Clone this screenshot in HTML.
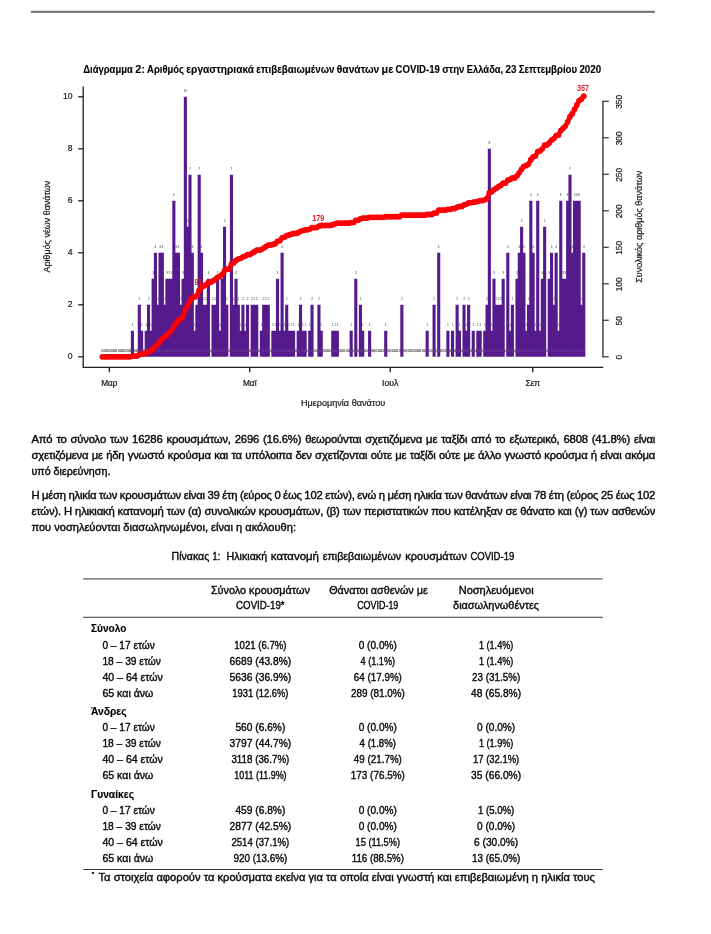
<!DOCTYPE html>
<html lang="el"><head><meta charset="utf-8"><title>COVID-19 report</title>
<style>
html,body{margin:0;padding:0;background:#fff}
svg{display:block;will-change:transform;font-family:"Liberation Sans",sans-serif}
</style></head><body>
<svg width="711" height="934" viewBox="0 0 711 934">
<rect width="711" height="934" fill="#fff"/>
<rect x="30.9" y="10.8" width="624" height="2" fill="#707070"/>
<g id="chart">
<path d="M130.85 356.8v-26.0h3.1v26.0zM137.76 356.8v-52.0h3.1v52.0zM140.06 356.8v-26.0h3.1v26.0zM144.67 356.8v-26.0h3.1v26.0zM146.97 356.8v-52.0h3.1v52.0zM149.27 356.8v-26.0h3.1v26.0zM151.58 356.8v-78.0h3.1v78.0zM153.88 356.8v-104.0h3.1v104.0zM156.18 356.8v-52.0h3.1v52.0zM158.49 356.8v-104.0h3.1v104.0zM160.79 356.8v-104.0h3.1v104.0zM163.09 356.8v-52.0h3.1v52.0zM165.39 356.8v-78.0h3.1v78.0zM167.70 356.8v-78.0h3.1v78.0zM170.00 356.8v-78.0h3.1v78.0zM172.30 356.8v-156.0h3.1v156.0zM174.61 356.8v-104.0h3.1v104.0zM176.91 356.8v-104.0h3.1v104.0zM179.21 356.8v-52.0h3.1v52.0zM181.52 356.8v-78.0h3.1v78.0zM183.82 356.8v-260.0h3.1v260.0zM186.12 356.8v-130.0h3.1v130.0zM188.42 356.8v-182.0h3.1v182.0zM190.73 356.8v-104.0h3.1v104.0zM193.03 356.8v-26.0h3.1v26.0zM195.33 356.8v-52.0h3.1v52.0zM197.64 356.8v-182.0h3.1v182.0zM199.94 356.8v-104.0h3.1v104.0zM202.24 356.8v-52.0h3.1v52.0zM204.55 356.8v-52.0h3.1v52.0zM206.85 356.8v-78.0h3.1v78.0zM211.45 356.8v-52.0h3.1v52.0zM213.76 356.8v-52.0h3.1v52.0zM216.06 356.8v-78.0h3.1v78.0zM218.36 356.8v-26.0h3.1v26.0zM220.67 356.8v-78.0h3.1v78.0zM222.97 356.8v-130.0h3.1v130.0zM225.27 356.8v-52.0h3.1v52.0zM229.88 356.8v-182.0h3.1v182.0zM232.18 356.8v-52.0h3.1v52.0zM234.48 356.8v-78.0h3.1v78.0zM236.79 356.8v-52.0h3.1v52.0zM239.09 356.8v-26.0h3.1v26.0zM241.39 356.8v-52.0h3.1v52.0zM243.70 356.8v-26.0h3.1v26.0zM246.00 356.8v-52.0h3.1v52.0zM250.61 356.8v-52.0h3.1v52.0zM252.91 356.8v-52.0h3.1v52.0zM255.21 356.8v-52.0h3.1v52.0zM259.82 356.8v-26.0h3.1v26.0zM262.12 356.8v-52.0h3.1v52.0zM264.42 356.8v-52.0h3.1v52.0zM266.73 356.8v-52.0h3.1v52.0zM271.33 356.8v-26.0h3.1v26.0zM273.64 356.8v-26.0h3.1v26.0zM275.94 356.8v-78.0h3.1v78.0zM278.24 356.8v-26.0h3.1v26.0zM280.55 356.8v-104.0h3.1v104.0zM282.85 356.8v-26.0h3.1v26.0zM285.15 356.8v-52.0h3.1v52.0zM287.45 356.8v-26.0h3.1v26.0zM289.76 356.8v-26.0h3.1v26.0zM292.06 356.8v-26.0h3.1v26.0zM296.67 356.8v-26.0h3.1v26.0zM298.97 356.8v-52.0h3.1v52.0zM301.27 356.8v-26.0h3.1v26.0zM303.57 356.8v-26.0h3.1v26.0zM308.18 356.8v-26.0h3.1v26.0zM310.48 356.8v-52.0h3.1v52.0zM317.39 356.8v-52.0h3.1v52.0zM319.70 356.8v-26.0h3.1v26.0zM331.21 356.8v-26.0h3.1v26.0zM333.51 356.8v-26.0h3.1v26.0zM335.82 356.8v-26.0h3.1v26.0zM349.63 356.8v-26.0h3.1v26.0zM354.24 356.8v-78.0h3.1v78.0zM358.85 356.8v-52.0h3.1v52.0zM361.15 356.8v-26.0h3.1v26.0zM368.06 356.8v-26.0h3.1v26.0zM384.18 356.8v-26.0h3.1v26.0zM400.30 356.8v-52.0h3.1v52.0zM425.63 356.8v-26.0h3.1v26.0zM432.54 356.8v-52.0h3.1v52.0zM437.15 356.8v-104.0h3.1v104.0zM446.36 356.8v-26.0h3.1v26.0zM450.97 356.8v-26.0h3.1v26.0zM455.57 356.8v-52.0h3.1v52.0zM457.88 356.8v-26.0h3.1v26.0zM462.48 356.8v-52.0h3.1v52.0zM464.79 356.8v-26.0h3.1v26.0zM467.09 356.8v-52.0h3.1v52.0zM471.69 356.8v-26.0h3.1v26.0zM476.30 356.8v-26.0h3.1v26.0zM478.60 356.8v-26.0h3.1v26.0zM483.21 356.8v-26.0h3.1v26.0zM485.51 356.8v-52.0h3.1v52.0zM487.81 356.8v-208.0h3.1v208.0zM490.12 356.8v-26.0h3.1v26.0zM492.42 356.8v-78.0h3.1v78.0zM494.72 356.8v-52.0h3.1v52.0zM497.03 356.8v-52.0h3.1v52.0zM499.33 356.8v-52.0h3.1v52.0zM501.63 356.8v-78.0h3.1v78.0zM506.24 356.8v-104.0h3.1v104.0zM508.54 356.8v-26.0h3.1v26.0zM510.84 356.8v-52.0h3.1v52.0zM515.45 356.8v-78.0h3.1v78.0zM517.75 356.8v-104.0h3.1v104.0zM520.06 356.8v-130.0h3.1v130.0zM522.36 356.8v-104.0h3.1v104.0zM524.66 356.8v-26.0h3.1v26.0zM526.97 356.8v-52.0h3.1v52.0zM529.27 356.8v-156.0h3.1v156.0zM531.57 356.8v-104.0h3.1v104.0zM533.88 356.8v-26.0h3.1v26.0zM536.18 356.8v-156.0h3.1v156.0zM538.48 356.8v-26.0h3.1v26.0zM540.78 356.8v-78.0h3.1v78.0zM543.09 356.8v-130.0h3.1v130.0zM547.69 356.8v-78.0h3.1v78.0zM550.00 356.8v-104.0h3.1v104.0zM552.30 356.8v-52.0h3.1v52.0zM554.60 356.8v-104.0h3.1v104.0zM556.91 356.8v-26.0h3.1v26.0zM559.21 356.8v-156.0h3.1v156.0zM561.51 356.8v-78.0h3.1v78.0zM563.81 356.8v-78.0h3.1v78.0zM566.12 356.8v-156.0h3.1v156.0zM568.42 356.8v-182.0h3.1v182.0zM570.72 356.8v-104.0h3.1v104.0zM573.03 356.8v-156.0h3.1v156.0zM575.33 356.8v-156.0h3.1v156.0zM577.63 356.8v-156.0h3.1v156.0zM579.94 356.8v-52.0h3.1v52.0zM582.24 356.8v-104.0h3.1v104.0z" fill="#551a8b"/>
<g font-size="3.2" fill="#3c3c3c" text-anchor="middle" font-family="'Liberation Sans',sans-serif">
<text x="132.40" y="325.5">1</text>
<text x="139.31" y="299.5">2</text>
<text x="141.61" y="325.5">1</text>
<text x="146.22" y="325.5">1</text>
<text x="148.52" y="299.5">2</text>
<text x="150.82" y="325.5">1</text>
<text x="153.13" y="273.5">3</text>
<text x="155.43" y="247.5">4</text>
<text x="157.73" y="299.5">2</text>
<text x="160.04" y="247.5">4</text>
<text x="162.34" y="247.5">4</text>
<text x="164.64" y="299.5">2</text>
<text x="166.94" y="273.5">3</text>
<text x="169.25" y="273.5">3</text>
<text x="171.55" y="273.5">3</text>
<text x="173.85" y="195.5">6</text>
<text x="176.16" y="247.5">4</text>
<text x="178.46" y="247.5">4</text>
<text x="180.76" y="299.5">2</text>
<text x="183.07" y="273.5">3</text>
<text x="185.37" y="91.5">10</text>
<text x="187.67" y="221.5">5</text>
<text x="189.97" y="169.5">7</text>
<text x="192.28" y="247.5">4</text>
<text x="194.58" y="325.5">1</text>
<text x="196.88" y="299.5">2</text>
<text x="199.19" y="169.5">7</text>
<text x="201.49" y="247.5">4</text>
<text x="203.79" y="299.5">2</text>
<text x="206.10" y="299.5">2</text>
<text x="208.40" y="273.5">3</text>
<text x="213.00" y="299.5">2</text>
<text x="215.31" y="299.5">2</text>
<text x="217.61" y="273.5">3</text>
<text x="219.91" y="325.5">1</text>
<text x="222.22" y="273.5">3</text>
<text x="224.52" y="221.5">5</text>
<text x="226.82" y="299.5">2</text>
<text x="231.43" y="169.5">7</text>
<text x="233.73" y="299.5">2</text>
<text x="236.03" y="273.5">3</text>
<text x="238.34" y="299.5">2</text>
<text x="240.64" y="325.5">1</text>
<text x="242.94" y="299.5">2</text>
<text x="245.25" y="325.5">1</text>
<text x="247.55" y="299.5">2</text>
<text x="252.16" y="299.5">2</text>
<text x="254.46" y="299.5">2</text>
<text x="256.76" y="299.5">2</text>
<text x="261.37" y="325.5">1</text>
<text x="263.67" y="299.5">2</text>
<text x="265.97" y="299.5">2</text>
<text x="268.28" y="299.5">2</text>
<text x="272.88" y="325.5">1</text>
<text x="275.19" y="325.5">1</text>
<text x="277.49" y="273.5">3</text>
<text x="279.79" y="325.5">1</text>
<text x="282.10" y="247.5">4</text>
<text x="284.40" y="325.5">1</text>
<text x="286.70" y="299.5">2</text>
<text x="289.00" y="325.5">1</text>
<text x="291.31" y="325.5">1</text>
<text x="293.61" y="325.5">1</text>
<text x="298.22" y="325.5">1</text>
<text x="300.52" y="299.5">2</text>
<text x="302.82" y="325.5">1</text>
<text x="305.12" y="325.5">1</text>
<text x="309.73" y="325.5">1</text>
<text x="312.03" y="299.5">2</text>
<text x="318.94" y="299.5">2</text>
<text x="321.25" y="325.5">1</text>
<text x="332.76" y="325.5">1</text>
<text x="335.06" y="325.5">1</text>
<text x="337.37" y="325.5">1</text>
<text x="351.19" y="325.5">1</text>
<text x="355.79" y="273.5">3</text>
<text x="360.40" y="299.5">2</text>
<text x="362.70" y="325.5">1</text>
<text x="369.61" y="325.5">1</text>
<text x="385.73" y="325.5">1</text>
<text x="401.85" y="299.5">2</text>
<text x="427.18" y="325.5">1</text>
<text x="434.09" y="299.5">2</text>
<text x="438.70" y="247.5">4</text>
<text x="447.91" y="325.5">1</text>
<text x="452.52" y="325.5">1</text>
<text x="457.12" y="299.5">2</text>
<text x="459.43" y="325.5">1</text>
<text x="464.03" y="299.5">2</text>
<text x="466.34" y="325.5">1</text>
<text x="468.64" y="299.5">2</text>
<text x="473.24" y="325.5">1</text>
<text x="477.85" y="325.5">1</text>
<text x="480.15" y="325.5">1</text>
<text x="484.76" y="325.5">1</text>
<text x="487.06" y="299.5">2</text>
<text x="489.37" y="143.5">8</text>
<text x="491.67" y="325.5">1</text>
<text x="493.97" y="273.5">3</text>
<text x="496.27" y="299.5">2</text>
<text x="498.58" y="299.5">2</text>
<text x="500.88" y="299.5">2</text>
<text x="503.18" y="273.5">3</text>
<text x="507.79" y="247.5">4</text>
<text x="510.09" y="325.5">1</text>
<text x="512.39" y="299.5">2</text>
<text x="517.00" y="273.5">3</text>
<text x="519.30" y="247.5">4</text>
<text x="521.61" y="221.5">5</text>
<text x="523.91" y="247.5">4</text>
<text x="526.21" y="325.5">1</text>
<text x="528.52" y="299.5">2</text>
<text x="530.82" y="195.5">6</text>
<text x="533.12" y="247.5">4</text>
<text x="535.42" y="325.5">1</text>
<text x="537.73" y="195.5">6</text>
<text x="540.03" y="325.5">1</text>
<text x="542.33" y="273.5">3</text>
<text x="544.64" y="221.5">5</text>
<text x="549.24" y="273.5">3</text>
<text x="551.55" y="247.5">4</text>
<text x="553.85" y="299.5">2</text>
<text x="556.15" y="247.5">4</text>
<text x="558.46" y="325.5">1</text>
<text x="560.76" y="195.5">6</text>
<text x="563.06" y="273.5">3</text>
<text x="565.36" y="273.5">3</text>
<text x="567.67" y="195.5">6</text>
<text x="569.97" y="169.5">7</text>
<text x="572.27" y="247.5">4</text>
<text x="574.58" y="195.5">6</text>
<text x="576.88" y="195.5">6</text>
<text x="579.18" y="195.5">6</text>
<text x="581.49" y="299.5">2</text>
<text x="583.79" y="247.5">4</text>
</g>
<g font-size="3.3" fill="#3a3a3a" stroke="#3a3a3a" stroke-width="0.12" text-anchor="middle" font-family="'Liberation Sans',sans-serif">
<text x="102.46" y="351.6">0</text>
<text x="104.76" y="351.6">0</text>
<text x="107.07" y="351.6">0</text>
<text x="109.37" y="351.6">0</text>
<text x="111.67" y="351.6">0</text>
<text x="113.98" y="351.6">0</text>
<text x="116.28" y="351.6">0</text>
<text x="118.58" y="351.6">0</text>
<text x="120.89" y="351.6">0</text>
<text x="123.19" y="351.6">0</text>
<text x="125.49" y="351.6">0</text>
<text x="127.79" y="351.6">0</text>
<text x="130.10" y="351.6">0</text>
<text x="132.40" y="351.6" fill="#c9b8e6" fill-opacity=".3" stroke="none">0</text>
<text x="134.70" y="351.6">0</text>
<text x="137.01" y="351.6">0</text>
<text x="139.31" y="351.6" fill="#c9b8e6" fill-opacity=".3" stroke="none">0</text>
<text x="141.61" y="351.6" fill="#c9b8e6" fill-opacity=".3" stroke="none">0</text>
<text x="143.92" y="351.6">0</text>
<text x="146.22" y="351.6" fill="#c9b8e6" fill-opacity=".3" stroke="none">0</text>
<text x="148.52" y="351.6" fill="#c9b8e6" fill-opacity=".3" stroke="none">0</text>
<text x="150.82" y="351.6" fill="#c9b8e6" fill-opacity=".3" stroke="none">0</text>
<text x="153.13" y="351.6" fill="#c9b8e6" fill-opacity=".3" stroke="none">0</text>
<text x="155.43" y="351.6" fill="#c9b8e6" fill-opacity=".3" stroke="none">0</text>
<text x="157.73" y="351.6" fill="#c9b8e6" fill-opacity=".3" stroke="none">0</text>
<text x="160.04" y="351.6" fill="#c9b8e6" fill-opacity=".3" stroke="none">0</text>
<text x="162.34" y="351.6" fill="#c9b8e6" fill-opacity=".3" stroke="none">0</text>
<text x="164.64" y="351.6" fill="#c9b8e6" fill-opacity=".3" stroke="none">0</text>
<text x="166.94" y="351.6" fill="#c9b8e6" fill-opacity=".3" stroke="none">0</text>
<text x="169.25" y="351.6" fill="#c9b8e6" fill-opacity=".3" stroke="none">0</text>
<text x="171.55" y="351.6" fill="#c9b8e6" fill-opacity=".3" stroke="none">0</text>
<text x="173.85" y="351.6" fill="#c9b8e6" fill-opacity=".3" stroke="none">0</text>
<text x="176.16" y="351.6" fill="#c9b8e6" fill-opacity=".3" stroke="none">0</text>
<text x="178.46" y="351.6" fill="#c9b8e6" fill-opacity=".3" stroke="none">0</text>
<text x="180.76" y="351.6" fill="#c9b8e6" fill-opacity=".3" stroke="none">0</text>
<text x="183.07" y="351.6" fill="#c9b8e6" fill-opacity=".3" stroke="none">0</text>
<text x="185.37" y="351.6" fill="#c9b8e6" fill-opacity=".3" stroke="none">0</text>
<text x="187.67" y="351.6" fill="#c9b8e6" fill-opacity=".3" stroke="none">0</text>
<text x="189.97" y="351.6" fill="#c9b8e6" fill-opacity=".3" stroke="none">0</text>
<text x="192.28" y="351.6" fill="#c9b8e6" fill-opacity=".3" stroke="none">0</text>
<text x="194.58" y="351.6" fill="#c9b8e6" fill-opacity=".3" stroke="none">0</text>
<text x="196.88" y="351.6" fill="#c9b8e6" fill-opacity=".3" stroke="none">0</text>
<text x="199.19" y="351.6" fill="#c9b8e6" fill-opacity=".3" stroke="none">0</text>
<text x="201.49" y="351.6" fill="#c9b8e6" fill-opacity=".3" stroke="none">0</text>
<text x="203.79" y="351.6" fill="#c9b8e6" fill-opacity=".3" stroke="none">0</text>
<text x="206.10" y="351.6" fill="#c9b8e6" fill-opacity=".3" stroke="none">0</text>
<text x="208.40" y="351.6" fill="#c9b8e6" fill-opacity=".3" stroke="none">0</text>
<text x="210.70" y="351.6">0</text>
<text x="213.00" y="351.6" fill="#c9b8e6" fill-opacity=".3" stroke="none">0</text>
<text x="215.31" y="351.6" fill="#c9b8e6" fill-opacity=".3" stroke="none">0</text>
<text x="217.61" y="351.6" fill="#c9b8e6" fill-opacity=".3" stroke="none">0</text>
<text x="219.91" y="351.6" fill="#c9b8e6" fill-opacity=".3" stroke="none">0</text>
<text x="222.22" y="351.6" fill="#c9b8e6" fill-opacity=".3" stroke="none">0</text>
<text x="224.52" y="351.6" fill="#c9b8e6" fill-opacity=".3" stroke="none">0</text>
<text x="226.82" y="351.6" fill="#c9b8e6" fill-opacity=".3" stroke="none">0</text>
<text x="229.13" y="351.6">0</text>
<text x="231.43" y="351.6" fill="#c9b8e6" fill-opacity=".3" stroke="none">0</text>
<text x="233.73" y="351.6" fill="#c9b8e6" fill-opacity=".3" stroke="none">0</text>
<text x="236.03" y="351.6" fill="#c9b8e6" fill-opacity=".3" stroke="none">0</text>
<text x="238.34" y="351.6" fill="#c9b8e6" fill-opacity=".3" stroke="none">0</text>
<text x="240.64" y="351.6" fill="#c9b8e6" fill-opacity=".3" stroke="none">0</text>
<text x="242.94" y="351.6" fill="#c9b8e6" fill-opacity=".3" stroke="none">0</text>
<text x="245.25" y="351.6" fill="#c9b8e6" fill-opacity=".3" stroke="none">0</text>
<text x="247.55" y="351.6" fill="#c9b8e6" fill-opacity=".3" stroke="none">0</text>
<text x="249.85" y="351.6">0</text>
<text x="252.16" y="351.6" fill="#c9b8e6" fill-opacity=".3" stroke="none">0</text>
<text x="254.46" y="351.6" fill="#c9b8e6" fill-opacity=".3" stroke="none">0</text>
<text x="256.76" y="351.6" fill="#c9b8e6" fill-opacity=".3" stroke="none">0</text>
<text x="259.06" y="351.6">0</text>
<text x="261.37" y="351.6" fill="#c9b8e6" fill-opacity=".3" stroke="none">0</text>
<text x="263.67" y="351.6" fill="#c9b8e6" fill-opacity=".3" stroke="none">0</text>
<text x="265.97" y="351.6" fill="#c9b8e6" fill-opacity=".3" stroke="none">0</text>
<text x="268.28" y="351.6" fill="#c9b8e6" fill-opacity=".3" stroke="none">0</text>
<text x="270.58" y="351.6">0</text>
<text x="272.88" y="351.6" fill="#c9b8e6" fill-opacity=".3" stroke="none">0</text>
<text x="275.19" y="351.6" fill="#c9b8e6" fill-opacity=".3" stroke="none">0</text>
<text x="277.49" y="351.6" fill="#c9b8e6" fill-opacity=".3" stroke="none">0</text>
<text x="279.79" y="351.6" fill="#c9b8e6" fill-opacity=".3" stroke="none">0</text>
<text x="282.10" y="351.6" fill="#c9b8e6" fill-opacity=".3" stroke="none">0</text>
<text x="284.40" y="351.6" fill="#c9b8e6" fill-opacity=".3" stroke="none">0</text>
<text x="286.70" y="351.6" fill="#c9b8e6" fill-opacity=".3" stroke="none">0</text>
<text x="289.00" y="351.6" fill="#c9b8e6" fill-opacity=".3" stroke="none">0</text>
<text x="291.31" y="351.6" fill="#c9b8e6" fill-opacity=".3" stroke="none">0</text>
<text x="293.61" y="351.6" fill="#c9b8e6" fill-opacity=".3" stroke="none">0</text>
<text x="295.91" y="351.6">0</text>
<text x="298.22" y="351.6" fill="#c9b8e6" fill-opacity=".3" stroke="none">0</text>
<text x="300.52" y="351.6" fill="#c9b8e6" fill-opacity=".3" stroke="none">0</text>
<text x="302.82" y="351.6" fill="#c9b8e6" fill-opacity=".3" stroke="none">0</text>
<text x="305.12" y="351.6" fill="#c9b8e6" fill-opacity=".3" stroke="none">0</text>
<text x="307.43" y="351.6">0</text>
<text x="309.73" y="351.6" fill="#c9b8e6" fill-opacity=".3" stroke="none">0</text>
<text x="312.03" y="351.6" fill="#c9b8e6" fill-opacity=".3" stroke="none">0</text>
<text x="314.34" y="351.6">0</text>
<text x="316.64" y="351.6">0</text>
<text x="318.94" y="351.6" fill="#c9b8e6" fill-opacity=".3" stroke="none">0</text>
<text x="321.25" y="351.6" fill="#c9b8e6" fill-opacity=".3" stroke="none">0</text>
<text x="323.55" y="351.6">0</text>
<text x="325.85" y="351.6">0</text>
<text x="328.15" y="351.6">0</text>
<text x="330.46" y="351.6">0</text>
<text x="332.76" y="351.6" fill="#c9b8e6" fill-opacity=".3" stroke="none">0</text>
<text x="335.06" y="351.6" fill="#c9b8e6" fill-opacity=".3" stroke="none">0</text>
<text x="337.37" y="351.6" fill="#c9b8e6" fill-opacity=".3" stroke="none">0</text>
<text x="339.67" y="351.6">0</text>
<text x="341.97" y="351.6">0</text>
<text x="344.28" y="351.6">0</text>
<text x="346.58" y="351.6">0</text>
<text x="348.88" y="351.6">0</text>
<text x="351.19" y="351.6" fill="#c9b8e6" fill-opacity=".3" stroke="none">0</text>
<text x="353.49" y="351.6">0</text>
<text x="355.79" y="351.6" fill="#c9b8e6" fill-opacity=".3" stroke="none">0</text>
<text x="358.09" y="351.6">0</text>
<text x="360.40" y="351.6" fill="#c9b8e6" fill-opacity=".3" stroke="none">0</text>
<text x="362.70" y="351.6" fill="#c9b8e6" fill-opacity=".3" stroke="none">0</text>
<text x="365.00" y="351.6">0</text>
<text x="367.31" y="351.6">0</text>
<text x="369.61" y="351.6" fill="#c9b8e6" fill-opacity=".3" stroke="none">0</text>
<text x="371.91" y="351.6">0</text>
<text x="374.22" y="351.6">0</text>
<text x="376.52" y="351.6">0</text>
<text x="378.82" y="351.6">0</text>
<text x="381.12" y="351.6">0</text>
<text x="383.43" y="351.6">0</text>
<text x="385.73" y="351.6" fill="#c9b8e6" fill-opacity=".3" stroke="none">0</text>
<text x="388.03" y="351.6">0</text>
<text x="390.34" y="351.6">0</text>
<text x="392.64" y="351.6">0</text>
<text x="394.94" y="351.6">0</text>
<text x="397.25" y="351.6">0</text>
<text x="399.55" y="351.6">0</text>
<text x="401.85" y="351.6" fill="#c9b8e6" fill-opacity=".3" stroke="none">0</text>
<text x="404.15" y="351.6">0</text>
<text x="406.46" y="351.6">0</text>
<text x="408.76" y="351.6">0</text>
<text x="411.06" y="351.6">0</text>
<text x="413.37" y="351.6">0</text>
<text x="415.67" y="351.6">0</text>
<text x="417.97" y="351.6">0</text>
<text x="420.27" y="351.6">0</text>
<text x="422.58" y="351.6">0</text>
<text x="424.88" y="351.6">0</text>
<text x="427.18" y="351.6" fill="#c9b8e6" fill-opacity=".3" stroke="none">0</text>
<text x="429.49" y="351.6">0</text>
<text x="431.79" y="351.6">0</text>
<text x="434.09" y="351.6" fill="#c9b8e6" fill-opacity=".3" stroke="none">0</text>
<text x="436.40" y="351.6">0</text>
<text x="438.70" y="351.6" fill="#c9b8e6" fill-opacity=".3" stroke="none">0</text>
<text x="441.00" y="351.6">0</text>
<text x="443.30" y="351.6">0</text>
<text x="445.61" y="351.6">0</text>
<text x="447.91" y="351.6" fill="#c9b8e6" fill-opacity=".3" stroke="none">0</text>
<text x="450.21" y="351.6">0</text>
<text x="452.52" y="351.6" fill="#c9b8e6" fill-opacity=".3" stroke="none">0</text>
<text x="454.82" y="351.6">0</text>
<text x="457.12" y="351.6" fill="#c9b8e6" fill-opacity=".3" stroke="none">0</text>
<text x="459.43" y="351.6" fill="#c9b8e6" fill-opacity=".3" stroke="none">0</text>
<text x="461.73" y="351.6">0</text>
<text x="464.03" y="351.6" fill="#c9b8e6" fill-opacity=".3" stroke="none">0</text>
<text x="466.34" y="351.6" fill="#c9b8e6" fill-opacity=".3" stroke="none">0</text>
<text x="468.64" y="351.6" fill="#c9b8e6" fill-opacity=".3" stroke="none">0</text>
<text x="470.94" y="351.6">0</text>
<text x="473.24" y="351.6" fill="#c9b8e6" fill-opacity=".3" stroke="none">0</text>
<text x="475.55" y="351.6">0</text>
<text x="477.85" y="351.6" fill="#c9b8e6" fill-opacity=".3" stroke="none">0</text>
<text x="480.15" y="351.6" fill="#c9b8e6" fill-opacity=".3" stroke="none">0</text>
<text x="482.46" y="351.6">0</text>
<text x="484.76" y="351.6" fill="#c9b8e6" fill-opacity=".3" stroke="none">0</text>
<text x="487.06" y="351.6" fill="#c9b8e6" fill-opacity=".3" stroke="none">0</text>
<text x="489.37" y="351.6" fill="#c9b8e6" fill-opacity=".3" stroke="none">0</text>
<text x="491.67" y="351.6" fill="#c9b8e6" fill-opacity=".3" stroke="none">0</text>
<text x="493.97" y="351.6" fill="#c9b8e6" fill-opacity=".3" stroke="none">0</text>
<text x="496.27" y="351.6" fill="#c9b8e6" fill-opacity=".3" stroke="none">0</text>
<text x="498.58" y="351.6" fill="#c9b8e6" fill-opacity=".3" stroke="none">0</text>
<text x="500.88" y="351.6" fill="#c9b8e6" fill-opacity=".3" stroke="none">0</text>
<text x="503.18" y="351.6" fill="#c9b8e6" fill-opacity=".3" stroke="none">0</text>
<text x="505.49" y="351.6">0</text>
<text x="507.79" y="351.6" fill="#c9b8e6" fill-opacity=".3" stroke="none">0</text>
<text x="510.09" y="351.6" fill="#c9b8e6" fill-opacity=".3" stroke="none">0</text>
<text x="512.39" y="351.6" fill="#c9b8e6" fill-opacity=".3" stroke="none">0</text>
<text x="514.70" y="351.6">0</text>
<text x="517.00" y="351.6" fill="#c9b8e6" fill-opacity=".3" stroke="none">0</text>
<text x="519.30" y="351.6" fill="#c9b8e6" fill-opacity=".3" stroke="none">0</text>
<text x="521.61" y="351.6" fill="#c9b8e6" fill-opacity=".3" stroke="none">0</text>
<text x="523.91" y="351.6" fill="#c9b8e6" fill-opacity=".3" stroke="none">0</text>
<text x="526.21" y="351.6" fill="#c9b8e6" fill-opacity=".3" stroke="none">0</text>
<text x="528.52" y="351.6" fill="#c9b8e6" fill-opacity=".3" stroke="none">0</text>
<text x="530.82" y="351.6" fill="#c9b8e6" fill-opacity=".3" stroke="none">0</text>
<text x="533.12" y="351.6" fill="#c9b8e6" fill-opacity=".3" stroke="none">0</text>
<text x="535.42" y="351.6" fill="#c9b8e6" fill-opacity=".3" stroke="none">0</text>
<text x="537.73" y="351.6" fill="#c9b8e6" fill-opacity=".3" stroke="none">0</text>
<text x="540.03" y="351.6" fill="#c9b8e6" fill-opacity=".3" stroke="none">0</text>
<text x="542.33" y="351.6" fill="#c9b8e6" fill-opacity=".3" stroke="none">0</text>
<text x="544.64" y="351.6" fill="#c9b8e6" fill-opacity=".3" stroke="none">0</text>
<text x="546.94" y="351.6">0</text>
<text x="549.24" y="351.6" fill="#c9b8e6" fill-opacity=".3" stroke="none">0</text>
<text x="551.55" y="351.6" fill="#c9b8e6" fill-opacity=".3" stroke="none">0</text>
<text x="553.85" y="351.6" fill="#c9b8e6" fill-opacity=".3" stroke="none">0</text>
<text x="556.15" y="351.6" fill="#c9b8e6" fill-opacity=".3" stroke="none">0</text>
<text x="558.46" y="351.6" fill="#c9b8e6" fill-opacity=".3" stroke="none">0</text>
<text x="560.76" y="351.6" fill="#c9b8e6" fill-opacity=".3" stroke="none">0</text>
<text x="563.06" y="351.6" fill="#c9b8e6" fill-opacity=".3" stroke="none">0</text>
<text x="565.36" y="351.6" fill="#c9b8e6" fill-opacity=".3" stroke="none">0</text>
<text x="567.67" y="351.6" fill="#c9b8e6" fill-opacity=".3" stroke="none">0</text>
<text x="569.97" y="351.6" fill="#c9b8e6" fill-opacity=".3" stroke="none">0</text>
<text x="572.27" y="351.6" fill="#c9b8e6" fill-opacity=".3" stroke="none">0</text>
<text x="574.58" y="351.6" fill="#c9b8e6" fill-opacity=".3" stroke="none">0</text>
<text x="576.88" y="351.6" fill="#c9b8e6" fill-opacity=".3" stroke="none">0</text>
<text x="579.18" y="351.6" fill="#c9b8e6" fill-opacity=".3" stroke="none">0</text>
<text x="581.49" y="351.6" fill="#c9b8e6" fill-opacity=".3" stroke="none">0</text>
<text x="583.79" y="351.6" fill="#c9b8e6" fill-opacity=".3" stroke="none">0</text>
</g>
<g font-size="8.6" font-weight="700" fill="#e31b23" text-anchor="middle" font-family="'Liberation Sans',sans-serif">
<text x="198.5" y="285.0" textLength="8.0" lengthAdjust="spacingAndGlyphs">91</text>
<text x="318.2" y="220.7" textLength="12.0" lengthAdjust="spacingAndGlyphs">179</text>
<text x="583.1" y="90.8" textLength="12.0" lengthAdjust="spacingAndGlyphs">357</text>
</g>
<polyline points="102.46,356.80 104.76,356.80 107.07,356.80 109.37,356.80 111.67,356.80 113.98,356.80 116.28,356.80 118.58,356.80 120.89,356.80 123.19,356.80 125.49,356.80 127.79,356.80 130.10,356.80 132.40,356.07 134.70,356.07 137.01,356.07 139.31,354.61 141.61,353.88 143.92,353.88 146.22,353.15 148.52,351.69 150.82,350.96 153.13,348.77 155.43,345.85 157.73,344.39 160.04,341.47 162.34,338.55 164.64,337.09 166.94,334.90 169.25,332.71 171.55,330.52 173.85,326.14 176.16,323.22 178.46,320.30 180.76,318.84 183.07,316.65 185.37,309.35 187.67,305.70 189.97,300.59 192.28,297.67 194.58,296.94 196.88,295.48 199.19,290.37 201.49,287.45 203.79,285.99 206.10,284.53 208.40,282.34 210.70,282.34 213.00,280.88 215.31,279.42 217.61,277.23 219.91,276.50 222.22,274.31 224.52,270.66 226.82,269.20 229.13,269.20 231.43,264.09 233.73,262.63 236.03,260.44 238.34,258.98 240.64,258.25 242.94,256.79 245.25,256.06 247.55,254.60 249.85,254.60 252.16,253.14 254.46,251.68 256.76,250.22 259.06,250.22 261.37,249.49 263.67,248.03 265.97,246.57 268.28,245.11 270.58,245.11 272.88,244.38 275.19,243.65 277.49,241.46 279.79,240.73 282.10,237.81 284.40,237.08 286.70,235.62 289.00,234.89 291.31,234.16 293.61,233.43 295.91,233.43 298.22,232.70 300.52,231.24 302.82,230.51 305.12,229.78 307.43,229.78 309.73,229.05 312.03,227.59 314.34,227.59 316.64,227.59 318.94,226.13 321.25,225.40 323.55,225.40 325.85,225.40 328.15,225.40 330.46,225.40 332.76,224.67 335.06,223.94 337.37,223.21 339.67,223.21 341.97,223.21 344.28,223.21 346.58,223.21 348.88,223.21 351.19,222.48 353.49,222.48 355.79,220.29 358.09,220.29 360.40,218.83 362.70,218.10 365.00,218.10 367.31,218.10 369.61,217.37 371.91,217.37 374.22,217.37 376.52,217.37 378.82,217.37 381.12,217.37 383.43,217.37 385.73,216.64 388.03,216.64 390.34,216.64 392.64,216.64 394.94,216.64 397.25,216.64 399.55,216.64 401.85,215.18 404.15,215.18 406.46,215.18 408.76,215.18 411.06,215.18 413.37,215.18 415.67,215.18 417.97,215.18 420.27,215.18 422.58,215.18 424.88,215.18 427.18,214.45 429.49,214.45 431.79,214.45 434.09,212.99 436.40,212.99 438.70,210.07 441.00,210.07 443.30,210.07 445.61,210.07 447.91,209.34 450.21,209.34 452.52,208.61 454.82,208.61 457.12,207.15 459.43,206.42 461.73,206.42 464.03,204.96 466.34,204.23 468.64,202.77 470.94,202.77 473.24,202.04 475.55,202.04 477.85,201.31 480.15,200.58 482.46,200.58 484.76,199.85 487.06,198.39 489.37,192.55 491.67,191.82 493.97,189.63 496.27,188.17 498.58,186.71 500.88,185.25 503.18,183.06 505.49,183.06 507.79,180.14 510.09,179.41 512.39,177.95 514.70,177.95 517.00,175.76 519.30,172.84 521.61,169.19 523.91,166.27 526.21,165.54 528.52,164.08 530.82,159.70 533.12,156.78 535.42,156.05 537.73,151.67 540.03,150.94 542.33,148.75 544.64,145.10 546.94,145.10 549.24,142.91 551.55,139.99 553.85,138.53 556.15,135.61 558.46,134.88 560.76,130.50 563.06,128.31 565.36,126.12 567.67,121.74 569.97,116.63 572.27,113.71 574.58,109.33 576.88,104.95 579.18,100.57 581.49,99.11 583.79,96.19" fill="none" stroke="#fb0007" stroke-width="4.5" stroke-linecap="round" stroke-linejoin="round"/>
<g fill="#fb0007"><circle cx="102.46" cy="356.80" r="2.85"/><circle cx="104.76" cy="356.80" r="2.85"/><circle cx="107.07" cy="356.80" r="2.85"/><circle cx="109.37" cy="356.80" r="2.85"/><circle cx="111.67" cy="356.80" r="2.85"/><circle cx="113.98" cy="356.80" r="2.85"/><circle cx="116.28" cy="356.80" r="2.85"/><circle cx="118.58" cy="356.80" r="2.85"/><circle cx="120.89" cy="356.80" r="2.85"/><circle cx="123.19" cy="356.80" r="2.85"/><circle cx="125.49" cy="356.80" r="2.85"/><circle cx="127.79" cy="356.80" r="2.85"/><circle cx="130.10" cy="356.80" r="2.85"/><circle cx="132.40" cy="356.07" r="2.85"/><circle cx="134.70" cy="356.07" r="2.85"/><circle cx="137.01" cy="356.07" r="2.85"/><circle cx="139.31" cy="354.61" r="2.85"/><circle cx="141.61" cy="353.88" r="2.85"/><circle cx="143.92" cy="353.88" r="2.85"/><circle cx="146.22" cy="353.15" r="2.85"/><circle cx="148.52" cy="351.69" r="2.85"/><circle cx="150.82" cy="350.96" r="2.85"/><circle cx="153.13" cy="348.77" r="2.85"/><circle cx="155.43" cy="345.85" r="2.85"/><circle cx="157.73" cy="344.39" r="2.85"/><circle cx="160.04" cy="341.47" r="2.85"/><circle cx="162.34" cy="338.55" r="2.85"/><circle cx="164.64" cy="337.09" r="2.85"/><circle cx="166.94" cy="334.90" r="2.85"/><circle cx="169.25" cy="332.71" r="2.85"/><circle cx="171.55" cy="330.52" r="2.85"/><circle cx="173.85" cy="326.14" r="2.85"/><circle cx="176.16" cy="323.22" r="2.85"/><circle cx="178.46" cy="320.30" r="2.85"/><circle cx="180.76" cy="318.84" r="2.85"/><circle cx="183.07" cy="316.65" r="2.85"/><circle cx="185.37" cy="309.35" r="2.85"/><circle cx="187.67" cy="305.70" r="2.85"/><circle cx="189.97" cy="300.59" r="2.85"/><circle cx="192.28" cy="297.67" r="2.85"/><circle cx="194.58" cy="296.94" r="2.85"/><circle cx="196.88" cy="295.48" r="2.85"/><circle cx="199.19" cy="290.37" r="2.85"/><circle cx="201.49" cy="287.45" r="2.85"/><circle cx="203.79" cy="285.99" r="2.85"/><circle cx="206.10" cy="284.53" r="2.85"/><circle cx="208.40" cy="282.34" r="2.85"/><circle cx="210.70" cy="282.34" r="2.85"/><circle cx="213.00" cy="280.88" r="2.85"/><circle cx="215.31" cy="279.42" r="2.85"/><circle cx="217.61" cy="277.23" r="2.85"/><circle cx="219.91" cy="276.50" r="2.85"/><circle cx="222.22" cy="274.31" r="2.85"/><circle cx="224.52" cy="270.66" r="2.85"/><circle cx="226.82" cy="269.20" r="2.85"/><circle cx="229.13" cy="269.20" r="2.85"/><circle cx="231.43" cy="264.09" r="2.85"/><circle cx="233.73" cy="262.63" r="2.85"/><circle cx="236.03" cy="260.44" r="2.85"/><circle cx="238.34" cy="258.98" r="2.85"/><circle cx="240.64" cy="258.25" r="2.85"/><circle cx="242.94" cy="256.79" r="2.85"/><circle cx="245.25" cy="256.06" r="2.85"/><circle cx="247.55" cy="254.60" r="2.85"/><circle cx="249.85" cy="254.60" r="2.85"/><circle cx="252.16" cy="253.14" r="2.85"/><circle cx="254.46" cy="251.68" r="2.85"/><circle cx="256.76" cy="250.22" r="2.85"/><circle cx="259.06" cy="250.22" r="2.85"/><circle cx="261.37" cy="249.49" r="2.85"/><circle cx="263.67" cy="248.03" r="2.85"/><circle cx="265.97" cy="246.57" r="2.85"/><circle cx="268.28" cy="245.11" r="2.85"/><circle cx="270.58" cy="245.11" r="2.85"/><circle cx="272.88" cy="244.38" r="2.85"/><circle cx="275.19" cy="243.65" r="2.85"/><circle cx="277.49" cy="241.46" r="2.85"/><circle cx="279.79" cy="240.73" r="2.85"/><circle cx="282.10" cy="237.81" r="2.85"/><circle cx="284.40" cy="237.08" r="2.85"/><circle cx="286.70" cy="235.62" r="2.85"/><circle cx="289.00" cy="234.89" r="2.85"/><circle cx="291.31" cy="234.16" r="2.85"/><circle cx="293.61" cy="233.43" r="2.85"/><circle cx="295.91" cy="233.43" r="2.85"/><circle cx="298.22" cy="232.70" r="2.85"/><circle cx="300.52" cy="231.24" r="2.85"/><circle cx="302.82" cy="230.51" r="2.85"/><circle cx="305.12" cy="229.78" r="2.85"/><circle cx="307.43" cy="229.78" r="2.85"/><circle cx="309.73" cy="229.05" r="2.85"/><circle cx="312.03" cy="227.59" r="2.85"/><circle cx="314.34" cy="227.59" r="2.85"/><circle cx="316.64" cy="227.59" r="2.85"/><circle cx="318.94" cy="226.13" r="2.85"/><circle cx="321.25" cy="225.40" r="2.85"/><circle cx="323.55" cy="225.40" r="2.85"/><circle cx="325.85" cy="225.40" r="2.85"/><circle cx="328.15" cy="225.40" r="2.85"/><circle cx="330.46" cy="225.40" r="2.85"/><circle cx="332.76" cy="224.67" r="2.85"/><circle cx="335.06" cy="223.94" r="2.85"/><circle cx="337.37" cy="223.21" r="2.85"/><circle cx="339.67" cy="223.21" r="2.85"/><circle cx="341.97" cy="223.21" r="2.85"/><circle cx="344.28" cy="223.21" r="2.85"/><circle cx="346.58" cy="223.21" r="2.85"/><circle cx="348.88" cy="223.21" r="2.85"/><circle cx="351.19" cy="222.48" r="2.85"/><circle cx="353.49" cy="222.48" r="2.85"/><circle cx="355.79" cy="220.29" r="2.85"/><circle cx="358.09" cy="220.29" r="2.85"/><circle cx="360.40" cy="218.83" r="2.85"/><circle cx="362.70" cy="218.10" r="2.85"/><circle cx="365.00" cy="218.10" r="2.85"/><circle cx="367.31" cy="218.10" r="2.85"/><circle cx="369.61" cy="217.37" r="2.85"/><circle cx="371.91" cy="217.37" r="2.85"/><circle cx="374.22" cy="217.37" r="2.85"/><circle cx="376.52" cy="217.37" r="2.85"/><circle cx="378.82" cy="217.37" r="2.85"/><circle cx="381.12" cy="217.37" r="2.85"/><circle cx="383.43" cy="217.37" r="2.85"/><circle cx="385.73" cy="216.64" r="2.85"/><circle cx="388.03" cy="216.64" r="2.85"/><circle cx="390.34" cy="216.64" r="2.85"/><circle cx="392.64" cy="216.64" r="2.85"/><circle cx="394.94" cy="216.64" r="2.85"/><circle cx="397.25" cy="216.64" r="2.85"/><circle cx="399.55" cy="216.64" r="2.85"/><circle cx="401.85" cy="215.18" r="2.85"/><circle cx="404.15" cy="215.18" r="2.85"/><circle cx="406.46" cy="215.18" r="2.85"/><circle cx="408.76" cy="215.18" r="2.85"/><circle cx="411.06" cy="215.18" r="2.85"/><circle cx="413.37" cy="215.18" r="2.85"/><circle cx="415.67" cy="215.18" r="2.85"/><circle cx="417.97" cy="215.18" r="2.85"/><circle cx="420.27" cy="215.18" r="2.85"/><circle cx="422.58" cy="215.18" r="2.85"/><circle cx="424.88" cy="215.18" r="2.85"/><circle cx="427.18" cy="214.45" r="2.85"/><circle cx="429.49" cy="214.45" r="2.85"/><circle cx="431.79" cy="214.45" r="2.85"/><circle cx="434.09" cy="212.99" r="2.85"/><circle cx="436.40" cy="212.99" r="2.85"/><circle cx="438.70" cy="210.07" r="2.85"/><circle cx="441.00" cy="210.07" r="2.85"/><circle cx="443.30" cy="210.07" r="2.85"/><circle cx="445.61" cy="210.07" r="2.85"/><circle cx="447.91" cy="209.34" r="2.85"/><circle cx="450.21" cy="209.34" r="2.85"/><circle cx="452.52" cy="208.61" r="2.85"/><circle cx="454.82" cy="208.61" r="2.85"/><circle cx="457.12" cy="207.15" r="2.85"/><circle cx="459.43" cy="206.42" r="2.85"/><circle cx="461.73" cy="206.42" r="2.85"/><circle cx="464.03" cy="204.96" r="2.85"/><circle cx="466.34" cy="204.23" r="2.85"/><circle cx="468.64" cy="202.77" r="2.85"/><circle cx="470.94" cy="202.77" r="2.85"/><circle cx="473.24" cy="202.04" r="2.85"/><circle cx="475.55" cy="202.04" r="2.85"/><circle cx="477.85" cy="201.31" r="2.85"/><circle cx="480.15" cy="200.58" r="2.85"/><circle cx="482.46" cy="200.58" r="2.85"/><circle cx="484.76" cy="199.85" r="2.85"/><circle cx="487.06" cy="198.39" r="2.85"/><circle cx="489.37" cy="192.55" r="2.85"/><circle cx="491.67" cy="191.82" r="2.85"/><circle cx="493.97" cy="189.63" r="2.85"/><circle cx="496.27" cy="188.17" r="2.85"/><circle cx="498.58" cy="186.71" r="2.85"/><circle cx="500.88" cy="185.25" r="2.85"/><circle cx="503.18" cy="183.06" r="2.85"/><circle cx="505.49" cy="183.06" r="2.85"/><circle cx="507.79" cy="180.14" r="2.85"/><circle cx="510.09" cy="179.41" r="2.85"/><circle cx="512.39" cy="177.95" r="2.85"/><circle cx="514.70" cy="177.95" r="2.85"/><circle cx="517.00" cy="175.76" r="2.85"/><circle cx="519.30" cy="172.84" r="2.85"/><circle cx="521.61" cy="169.19" r="2.85"/><circle cx="523.91" cy="166.27" r="2.85"/><circle cx="526.21" cy="165.54" r="2.85"/><circle cx="528.52" cy="164.08" r="2.85"/><circle cx="530.82" cy="159.70" r="2.85"/><circle cx="533.12" cy="156.78" r="2.85"/><circle cx="535.42" cy="156.05" r="2.85"/><circle cx="537.73" cy="151.67" r="2.85"/><circle cx="540.03" cy="150.94" r="2.85"/><circle cx="542.33" cy="148.75" r="2.85"/><circle cx="544.64" cy="145.10" r="2.85"/><circle cx="546.94" cy="145.10" r="2.85"/><circle cx="549.24" cy="142.91" r="2.85"/><circle cx="551.55" cy="139.99" r="2.85"/><circle cx="553.85" cy="138.53" r="2.85"/><circle cx="556.15" cy="135.61" r="2.85"/><circle cx="558.46" cy="134.88" r="2.85"/><circle cx="560.76" cy="130.50" r="2.85"/><circle cx="563.06" cy="128.31" r="2.85"/><circle cx="565.36" cy="126.12" r="2.85"/><circle cx="567.67" cy="121.74" r="2.85"/><circle cx="569.97" cy="116.63" r="2.85"/><circle cx="572.27" cy="113.71" r="2.85"/><circle cx="574.58" cy="109.33" r="2.85"/><circle cx="576.88" cy="104.95" r="2.85"/><circle cx="579.18" cy="100.57" r="2.85"/><circle cx="581.49" cy="99.11" r="2.85"/><circle cx="583.79" cy="96.19" r="2.85"/></g>
<g stroke="#1e1e1e" stroke-width="1.3" fill="none">
<path d="M83.2 86.6V367.3H603.2"/>
<path d="M602.9 100.7V357.4" stroke="#383838" stroke-width="1.4"/>
<path d="M78.2 356.8H83.2"/>
<path d="M78.2 304.8H83.2"/>
<path d="M78.2 252.8H83.2"/>
<path d="M78.2 200.8H83.2"/>
<path d="M78.2 148.8H83.2"/>
<path d="M78.2 96.8H83.2"/>
<path d="M602.9 356.80H608.8" stroke="#383838" stroke-width="1.25"/>
<path d="M602.9 320.30H608.8" stroke="#383838" stroke-width="1.25"/>
<path d="M602.9 283.80H608.8" stroke="#383838" stroke-width="1.25"/>
<path d="M602.9 247.30H608.8" stroke="#383838" stroke-width="1.25"/>
<path d="M602.9 210.80H608.8" stroke="#383838" stroke-width="1.25"/>
<path d="M602.9 174.30H608.8" stroke="#383838" stroke-width="1.25"/>
<path d="M602.9 137.80H608.8" stroke="#383838" stroke-width="1.25"/>
<path d="M602.9 101.30H608.8" stroke="#383838" stroke-width="1.25"/>
<path d="M109.4 367.3V372.2"/>
<path d="M249.7 367.3V372.2"/>
<path d="M390.2 367.3V372.2"/>
<path d="M532.8 367.3V372.2"/>
</g>
<g font-family="'Liberation Sans',sans-serif" fill="#1a1a1a" stroke="#1a1a1a" stroke-width="0.22">
<text x="72.5" y="358.8" font-size="8.6" text-anchor="end">0</text>
<text x="72.5" y="306.8" font-size="8.6" text-anchor="end">2</text>
<text x="72.5" y="254.8" font-size="8.6" text-anchor="end">4</text>
<text x="72.5" y="202.8" font-size="8.6" text-anchor="end">6</text>
<text x="72.5" y="150.8" font-size="8.6" text-anchor="end">8</text>
<text x="72.5" y="98.8" font-size="8.6" text-anchor="end">10</text>
<text transform="translate(621.6 357.3) rotate(-90)" font-size="9" text-anchor="middle" textLength="4.6" lengthAdjust="spacingAndGlyphs">0</text>
<text transform="translate(621.6 320.8) rotate(-90)" font-size="9" text-anchor="middle" textLength="9.4" lengthAdjust="spacingAndGlyphs">50</text>
<text transform="translate(621.6 284.3) rotate(-90)" font-size="9" text-anchor="middle" textLength="14.0" lengthAdjust="spacingAndGlyphs">100</text>
<text transform="translate(621.6 247.8) rotate(-90)" font-size="9" text-anchor="middle" textLength="14.0" lengthAdjust="spacingAndGlyphs">150</text>
<text transform="translate(621.6 211.3) rotate(-90)" font-size="9" text-anchor="middle" textLength="14.0" lengthAdjust="spacingAndGlyphs">200</text>
<text transform="translate(621.6 174.8) rotate(-90)" font-size="9" text-anchor="middle" textLength="14.0" lengthAdjust="spacingAndGlyphs">250</text>
<text transform="translate(621.6 138.3) rotate(-90)" font-size="9" text-anchor="middle" textLength="14.0" lengthAdjust="spacingAndGlyphs">300</text>
<text transform="translate(621.6 101.8) rotate(-90)" font-size="9" text-anchor="middle" textLength="14.0" lengthAdjust="spacingAndGlyphs">350</text>
<text x="101.2" y="385.8" font-size="8.3" textLength="16.4" lengthAdjust="spacingAndGlyphs">Μαρ</text>
<text x="242.9" y="385.8" font-size="8.3" textLength="13.6" lengthAdjust="spacingAndGlyphs">Μαϊ</text>
<text x="382.0" y="385.8" font-size="8.3" textLength="16.4" lengthAdjust="spacingAndGlyphs">Ιουλ</text>
<text x="525.4" y="385.8" font-size="8.3" textLength="14.8" lengthAdjust="spacingAndGlyphs">Σεπ</text>
<text x="301.0" y="406.2" font-size="8.8" textLength="84.2" lengthAdjust="spacingAndGlyphs">Ημερομηνία θανάτου</text>
<text transform="translate(49.6 272.4) rotate(-90)" font-size="8.8" textLength="91.6" lengthAdjust="spacingAndGlyphs">Αριθμός νέων θανάτων</text>
<text transform="translate(641.6 282.7) rotate(-90)" font-size="8.8" textLength="112" lengthAdjust="spacingAndGlyphs">Συνολικός αριθμός θανάτων</text>
</g>
</g>
<g id="text">
<text x="83.2" y="72.8" font-size="11.2" font-weight="700" textLength="49.7" lengthAdjust="spacingAndGlyphs" fill="#000" stroke="#000" stroke-width="0.1">Διάγραμμα</text>
<text x="135.2" y="72.8" font-size="11.2" font-weight="700" textLength="9.6" lengthAdjust="spacingAndGlyphs" fill="#000" stroke="#000" stroke-width="0.1">2:</text>
<text x="147.1" y="72.8" font-size="11.2" font-weight="700" textLength="36.9" lengthAdjust="spacingAndGlyphs" fill="#000" stroke="#000" stroke-width="0.1">Αριθμός</text>
<text x="186.3" y="72.8" font-size="11.2" font-weight="700" textLength="67.7" lengthAdjust="spacingAndGlyphs" fill="#000" stroke="#000" stroke-width="0.1">εργαστηριακά</text>
<text x="256.3" y="72.8" font-size="11.2" font-weight="700" textLength="78.2" lengthAdjust="spacingAndGlyphs" fill="#000" stroke="#000" stroke-width="0.1">επιβεβαιωμένων</text>
<text x="336.8" y="72.8" font-size="11.2" font-weight="700" textLength="42.5" lengthAdjust="spacingAndGlyphs" fill="#000" stroke="#000" stroke-width="0.1">θανάτων</text>
<text x="381.6" y="72.8" font-size="11.2" font-weight="700" textLength="11.7" lengthAdjust="spacingAndGlyphs" fill="#000" stroke="#000" stroke-width="0.1">με</text>
<text x="395.6" y="72.8" font-size="11.2" font-weight="700" textLength="44.3" lengthAdjust="spacingAndGlyphs" fill="#000" stroke="#000" stroke-width="0.1">COVID-19</text>
<text x="442.2" y="72.8" font-size="11.2" font-weight="700" textLength="22.3" lengthAdjust="spacingAndGlyphs" fill="#000" stroke="#000" stroke-width="0.1">στην</text>
<text x="466.8" y="72.8" font-size="11.2" font-weight="700" textLength="36.4" lengthAdjust="spacingAndGlyphs" fill="#000" stroke="#000" stroke-width="0.1">Ελλάδα,</text>
<text x="505.5" y="72.8" font-size="11.2" font-weight="700" textLength="10.9" lengthAdjust="spacingAndGlyphs" fill="#000" stroke="#000" stroke-width="0.1">23</text>
<text x="518.7" y="72.8" font-size="11.2" font-weight="700" textLength="58.4" lengthAdjust="spacingAndGlyphs" fill="#000" stroke="#000" stroke-width="0.1">Σεπτεμβρίου</text>
<text x="579.4" y="72.8" font-size="11.2" font-weight="700" textLength="21.8" lengthAdjust="spacingAndGlyphs" fill="#000" stroke="#000" stroke-width="0.1">2020</text>
<text x="31.4" y="442.8" font-size="11.3" fill="#0a0a0a" stroke="#0a0a0a" stroke-width="0.4" style="letter-spacing:-0.2px;word-spacing:1.043px">Από το σύνολο των 16286 κρουσμάτων, 2696 (16.6%) θεωρούνται σχετιζόμενα με ταξίδι από το εξωτερικό, 6808 (41.8%) είναι</text>
<text x="31.4" y="458.8" font-size="11.3" fill="#0a0a0a" stroke="#0a0a0a" stroke-width="0.4" style="letter-spacing:-0.2px;word-spacing:0.392px">σχετιζόμενα με ήδη γνωστό κρούσμα και τα υπόλοιπα δεν σχετίζονται ούτε με ταξίδι ούτε με άλλο γνωστό κρούσμα ή είναι ακόμα</text>
<text x="31.4" y="499.3" font-size="11.3" fill="#0a0a0a" stroke="#0a0a0a" stroke-width="0.4" style="letter-spacing:-0.2px;word-spacing:-0.367px">Η μέση ηλικία των κρουσμάτων είναι 39 έτη (εύρος 0 έως 102 ετών), ενώ η μέση ηλικία των θανάτων είναι 78 έτη (εύρος 25 έως 102</text>
<text x="31.4" y="515.2" font-size="11.3" fill="#0a0a0a" stroke="#0a0a0a" stroke-width="0.4" style="letter-spacing:-0.2px;word-spacing:0.158px">ετών). Η ηλικιακή κατανομή των (α) συνολικών κρουσμάτων, (β) των περιστατικών που κατέληξαν σε θάνατο και (γ) των ασθενών</text>
<text x="31.4" y="474.8" font-size="11.3" textLength="79" lengthAdjust="spacingAndGlyphs" fill="#0a0a0a" stroke="#0a0a0a" stroke-width="0.4">υπό διερεύνηση.</text>
<text x="31.4" y="531.1" font-size="11.3" textLength="264.6" lengthAdjust="spacingAndGlyphs" fill="#0a0a0a" stroke="#0a0a0a" stroke-width="0.4">που νοσηλεύονται διασωληνωμένοι, είναι η ακόλουθη:</text>
<text x="171.6" y="559.5" font-size="11.3" textLength="37.7" lengthAdjust="spacingAndGlyphs" fill="#0a0a0a" stroke="#0a0a0a" stroke-width="0.4">Πίνακας</text>
<text x="212.6" y="559.5" font-size="11.3" textLength="7.6" lengthAdjust="spacingAndGlyphs" fill="#0a0a0a" stroke="#0a0a0a" stroke-width="0.4">1:</text>
<text x="226.5" y="559.5" font-size="11.3" textLength="40.6" lengthAdjust="spacingAndGlyphs" fill="#0a0a0a" stroke="#0a0a0a" stroke-width="0.4">Ηλικιακή</text>
<text x="270.8" y="559.5" font-size="11.3" textLength="48.2" lengthAdjust="spacingAndGlyphs" fill="#0a0a0a" stroke="#0a0a0a" stroke-width="0.4">κατανομή</text>
<text x="322.7" y="559.5" font-size="11.3" textLength="78.4" lengthAdjust="spacingAndGlyphs" fill="#0a0a0a" stroke="#0a0a0a" stroke-width="0.4">επιβεβαιωμένων</text>
<text x="405.3" y="559.5" font-size="11.3" textLength="61.6" lengthAdjust="spacingAndGlyphs" fill="#0a0a0a" stroke="#0a0a0a" stroke-width="0.4">κρουσμάτων</text>
<text x="470.4" y="559.5" font-size="11.3" textLength="43.8" lengthAdjust="spacingAndGlyphs" fill="#0a0a0a" stroke="#0a0a0a" stroke-width="0.4">COVID-19</text>
<rect x="83.2" y="578.3" width="519.5" height="1.2" fill="#5a5a5a"/>
<rect x="83.2" y="616.8" width="519.5" height="0.9" fill="#222"/>
<rect x="83.2" y="869.1" width="519.5" height="0.9" fill="#222"/>
<text x="210.9" y="593.5" font-size="11.3" textLength="99" lengthAdjust="spacingAndGlyphs" fill="#0a0a0a" stroke="#0a0a0a" stroke-width="0.4">Σύνολο κρουσμάτων</text>
<text x="236.1" y="609.3" font-size="11.3" textLength="48.5" lengthAdjust="spacingAndGlyphs" fill="#0a0a0a" stroke="#0a0a0a" stroke-width="0.4">COVID-19*</text>
<text x="329.2" y="593.5" font-size="11.3" textLength="98.5" lengthAdjust="spacingAndGlyphs" fill="#0a0a0a" stroke="#0a0a0a" stroke-width="0.4">Θάνατοι ασθενών με</text>
<text x="357.2" y="609.3" font-size="11.3" textLength="41.1" lengthAdjust="spacingAndGlyphs" fill="#0a0a0a" stroke="#0a0a0a" stroke-width="0.4">COVID-19</text>
<text x="458.7" y="593.5" font-size="11.3" textLength="74.9" lengthAdjust="spacingAndGlyphs" fill="#0a0a0a" stroke="#0a0a0a" stroke-width="0.4">Νοσηλευόμενοι</text>
<text x="453.1" y="609.3" font-size="11.3" textLength="86" lengthAdjust="spacingAndGlyphs" fill="#0a0a0a" stroke="#0a0a0a" stroke-width="0.4">διασωληνωθέντες</text>
<text x="91" y="632.0" font-size="11.3" font-weight="700" textLength="35.4" lengthAdjust="spacingAndGlyphs" fill="#000" stroke="#000" stroke-width="0.15">Σύνολο</text>
<text x="102.4" y="648.5" font-size="11.3" textLength="52.5" lengthAdjust="spacingAndGlyphs" fill="#0a0a0a" stroke="#0a0a0a" stroke-width="0.4">0 – 17 ετών</text>
<text x="234.3" y="648.5" font-size="11.3" textLength="52.1" lengthAdjust="spacingAndGlyphs" fill="#0a0a0a" stroke="#0a0a0a" stroke-width="0.4">1021 (6.7%)</text>
<text x="358.7" y="648.5" font-size="11.3" textLength="38.2" lengthAdjust="spacingAndGlyphs" fill="#0a0a0a" stroke="#0a0a0a" stroke-width="0.4">0 (0.0%)</text>
<text x="478.9" y="648.5" font-size="11.3" textLength="34.5" lengthAdjust="spacingAndGlyphs" fill="#0a0a0a" stroke="#0a0a0a" stroke-width="0.4">1 (1.4%)</text>
<text x="102.4" y="664.5" font-size="11.3" textLength="58.5" lengthAdjust="spacingAndGlyphs" fill="#0a0a0a" stroke="#0a0a0a" stroke-width="0.4">18 – 39 ετών</text>
<text x="229.6" y="664.5" font-size="11.3" textLength="61.6" lengthAdjust="spacingAndGlyphs" fill="#0a0a0a" stroke="#0a0a0a" stroke-width="0.4">6689 (43.8%)</text>
<text x="360.6" y="664.5" font-size="11.3" textLength="34.5" lengthAdjust="spacingAndGlyphs" fill="#0a0a0a" stroke="#0a0a0a" stroke-width="0.4">4 (1.1%)</text>
<text x="478.9" y="664.5" font-size="11.3" textLength="34.5" lengthAdjust="spacingAndGlyphs" fill="#0a0a0a" stroke="#0a0a0a" stroke-width="0.4">1 (1.4%)</text>
<text x="102.4" y="680.5" font-size="11.3" textLength="60.5" lengthAdjust="spacingAndGlyphs" fill="#0a0a0a" stroke="#0a0a0a" stroke-width="0.4">40 – 64 ετών</text>
<text x="229.6" y="680.5" font-size="11.3" textLength="61.6" lengthAdjust="spacingAndGlyphs" fill="#0a0a0a" stroke="#0a0a0a" stroke-width="0.4">5636 (36.9%)</text>
<text x="353.8" y="680.5" font-size="11.3" textLength="48.1" lengthAdjust="spacingAndGlyphs" fill="#0a0a0a" stroke="#0a0a0a" stroke-width="0.4">64 (17.9%)</text>
<text x="472.1" y="680.5" font-size="11.3" textLength="48.1" lengthAdjust="spacingAndGlyphs" fill="#0a0a0a" stroke="#0a0a0a" stroke-width="0.4">23 (31.5%)</text>
<text x="102.4" y="696.5" font-size="11.3" textLength="51" lengthAdjust="spacingAndGlyphs" fill="#0a0a0a" stroke="#0a0a0a" stroke-width="0.4">65 και άνω</text>
<text x="232.3" y="696.5" font-size="11.3" textLength="56.1" lengthAdjust="spacingAndGlyphs" fill="#0a0a0a" stroke="#0a0a0a" stroke-width="0.4">1931 (12.6%)</text>
<text x="350.9" y="696.5" font-size="11.3" textLength="53.9" lengthAdjust="spacingAndGlyphs" fill="#0a0a0a" stroke="#0a0a0a" stroke-width="0.4">289 (81.0%)</text>
<text x="471.1" y="696.5" font-size="11.3" textLength="50.0" lengthAdjust="spacingAndGlyphs" fill="#0a0a0a" stroke="#0a0a0a" stroke-width="0.4">48 (65.8%)</text>
<text x="91" y="714.9" font-size="11.3" font-weight="700" textLength="35.6" lengthAdjust="spacingAndGlyphs" fill="#000" stroke="#000" stroke-width="0.15">Άνδρες</text>
<text x="102.4" y="731.4" font-size="11.3" textLength="52.5" lengthAdjust="spacingAndGlyphs" fill="#0a0a0a" stroke="#0a0a0a" stroke-width="0.4">0 – 17 ετών</text>
<text x="235.4" y="731.4" font-size="11.3" textLength="49.9" lengthAdjust="spacingAndGlyphs" fill="#0a0a0a" stroke="#0a0a0a" stroke-width="0.4">560 (6.6%)</text>
<text x="358.7" y="731.4" font-size="11.3" textLength="38.2" lengthAdjust="spacingAndGlyphs" fill="#0a0a0a" stroke="#0a0a0a" stroke-width="0.4">0 (0.0%)</text>
<text x="477.0" y="731.4" font-size="11.3" textLength="38.2" lengthAdjust="spacingAndGlyphs" fill="#0a0a0a" stroke="#0a0a0a" stroke-width="0.4">0 (0.0%)</text>
<text x="102.4" y="747.4" font-size="11.3" textLength="58.5" lengthAdjust="spacingAndGlyphs" fill="#0a0a0a" stroke="#0a0a0a" stroke-width="0.4">18 – 39 ετών</text>
<text x="229.6" y="747.4" font-size="11.3" textLength="61.6" lengthAdjust="spacingAndGlyphs" fill="#0a0a0a" stroke="#0a0a0a" stroke-width="0.4">3797 (44.7%)</text>
<text x="359.6" y="747.4" font-size="11.3" textLength="36.4" lengthAdjust="spacingAndGlyphs" fill="#0a0a0a" stroke="#0a0a0a" stroke-width="0.4">4 (1.8%)</text>
<text x="478.9" y="747.4" font-size="11.3" textLength="34.5" lengthAdjust="spacingAndGlyphs" fill="#0a0a0a" stroke="#0a0a0a" stroke-width="0.4">1 (1.9%)</text>
<text x="102.4" y="763.3" font-size="11.3" textLength="60.5" lengthAdjust="spacingAndGlyphs" fill="#0a0a0a" stroke="#0a0a0a" stroke-width="0.4">40 – 64 ετών</text>
<text x="231.4" y="763.3" font-size="11.3" textLength="58.0" lengthAdjust="spacingAndGlyphs" fill="#0a0a0a" stroke="#0a0a0a" stroke-width="0.4">3118 (36.7%)</text>
<text x="353.8" y="763.3" font-size="11.3" textLength="48.1" lengthAdjust="spacingAndGlyphs" fill="#0a0a0a" stroke="#0a0a0a" stroke-width="0.4">49 (21.7%)</text>
<text x="473.0" y="763.3" font-size="11.3" textLength="46.2" lengthAdjust="spacingAndGlyphs" fill="#0a0a0a" stroke="#0a0a0a" stroke-width="0.4">17 (32.1%)</text>
<text x="102.4" y="779.3" font-size="11.3" textLength="51" lengthAdjust="spacingAndGlyphs" fill="#0a0a0a" stroke="#0a0a0a" stroke-width="0.4">65 και άνω</text>
<text x="234.2" y="779.3" font-size="11.3" textLength="52.4" lengthAdjust="spacingAndGlyphs" fill="#0a0a0a" stroke="#0a0a0a" stroke-width="0.4">1011 (11.9%)</text>
<text x="350.8" y="779.3" font-size="11.3" textLength="54.0" lengthAdjust="spacingAndGlyphs" fill="#0a0a0a" stroke="#0a0a0a" stroke-width="0.4">173 (76.5%)</text>
<text x="471.1" y="779.3" font-size="11.3" textLength="50.0" lengthAdjust="spacingAndGlyphs" fill="#0a0a0a" stroke="#0a0a0a" stroke-width="0.4">35 (66.0%)</text>
<text x="91" y="797.5" font-size="11.3" font-weight="700" textLength="43" lengthAdjust="spacingAndGlyphs" fill="#000" stroke="#000" stroke-width="0.15">Γυναίκες</text>
<text x="102.4" y="814.0" font-size="11.3" textLength="52.5" lengthAdjust="spacingAndGlyphs" fill="#0a0a0a" stroke="#0a0a0a" stroke-width="0.4">0 – 17 ετών</text>
<text x="235.4" y="814.0" font-size="11.3" textLength="49.9" lengthAdjust="spacingAndGlyphs" fill="#0a0a0a" stroke="#0a0a0a" stroke-width="0.4">459 (6.8%)</text>
<text x="358.7" y="814.0" font-size="11.3" textLength="38.2" lengthAdjust="spacingAndGlyphs" fill="#0a0a0a" stroke="#0a0a0a" stroke-width="0.4">0 (0.0%)</text>
<text x="477.9" y="814.0" font-size="11.3" textLength="36.4" lengthAdjust="spacingAndGlyphs" fill="#0a0a0a" stroke="#0a0a0a" stroke-width="0.4">1 (5.0%)</text>
<text x="102.4" y="830.2" font-size="11.3" textLength="58.5" lengthAdjust="spacingAndGlyphs" fill="#0a0a0a" stroke="#0a0a0a" stroke-width="0.4">18 – 39 ετών</text>
<text x="229.6" y="830.2" font-size="11.3" textLength="61.6" lengthAdjust="spacingAndGlyphs" fill="#0a0a0a" stroke="#0a0a0a" stroke-width="0.4">2877 (42.5%)</text>
<text x="358.7" y="830.2" font-size="11.3" textLength="38.2" lengthAdjust="spacingAndGlyphs" fill="#0a0a0a" stroke="#0a0a0a" stroke-width="0.4">0 (0.0%)</text>
<text x="477.0" y="830.2" font-size="11.3" textLength="38.2" lengthAdjust="spacingAndGlyphs" fill="#0a0a0a" stroke="#0a0a0a" stroke-width="0.4">0 (0.0%)</text>
<text x="102.4" y="846.3" font-size="11.3" textLength="60.5" lengthAdjust="spacingAndGlyphs" fill="#0a0a0a" stroke="#0a0a0a" stroke-width="0.4">40 – 64 ετών</text>
<text x="231.4" y="846.3" font-size="11.3" textLength="57.9" lengthAdjust="spacingAndGlyphs" fill="#0a0a0a" stroke="#0a0a0a" stroke-width="0.4">2514 (37.1%)</text>
<text x="355.6" y="846.3" font-size="11.3" textLength="44.4" lengthAdjust="spacingAndGlyphs" fill="#0a0a0a" stroke="#0a0a0a" stroke-width="0.4">15 (11.5%)</text>
<text x="474.1" y="846.3" font-size="11.3" textLength="44.1" lengthAdjust="spacingAndGlyphs" fill="#0a0a0a" stroke="#0a0a0a" stroke-width="0.4">6 (30.0%)</text>
<text x="102.4" y="862.2" font-size="11.3" textLength="51" lengthAdjust="spacingAndGlyphs" fill="#0a0a0a" stroke="#0a0a0a" stroke-width="0.4">65 και άνω</text>
<text x="233.4" y="862.2" font-size="11.3" textLength="53.9" lengthAdjust="spacingAndGlyphs" fill="#0a0a0a" stroke="#0a0a0a" stroke-width="0.4">920 (13.6%)</text>
<text x="351.8" y="862.2" font-size="11.3" textLength="52.1" lengthAdjust="spacingAndGlyphs" fill="#0a0a0a" stroke="#0a0a0a" stroke-width="0.4">116 (88.5%)</text>
<text x="472.1" y="862.2" font-size="11.3" textLength="48.1" lengthAdjust="spacingAndGlyphs" fill="#0a0a0a" stroke="#0a0a0a" stroke-width="0.4">13 (65.0%)</text>
<text x="91.7" y="876.3" font-size="6.2" fill="#0a0a0a" stroke="#0a0a0a" stroke-width="0.4">*</text>
<text x="98.5" y="881.4" font-size="11.1" textLength="496.5" lengthAdjust="spacingAndGlyphs" fill="#0a0a0a" stroke="#0a0a0a" stroke-width="0.4">Τα στοιχεία αφορούν τα κρούσματα εκείνα για τα οποία είναι γνωστή και επιβεβαιωμένη η ηλικία τους</text>
</g>
</svg>
</body></html>
